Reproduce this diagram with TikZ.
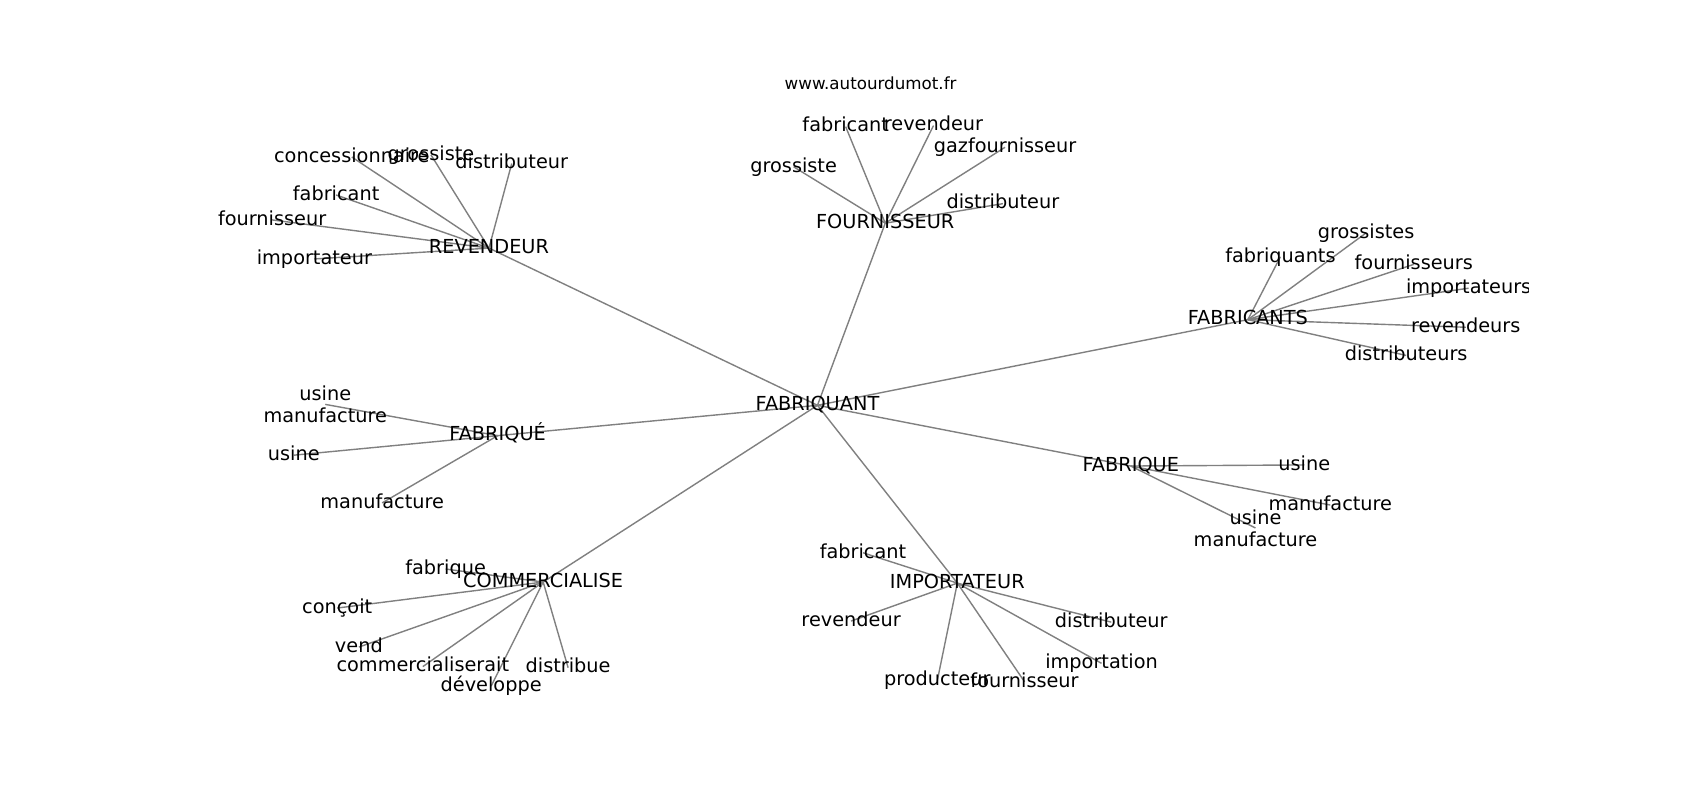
\documentclass[tikz,border=0pt]{standalone}
\usepackage{fontspec}
\setmainfont{DejaVu Sans}
\usetikzlibrary{backgrounds}
\tikzset{
  lbl/.style={inner sep=0pt, anchor=center, yshift=-1pt, font=\fontsize{9.65pt}{11.1pt}\selectfont, text height=0.76em, text depth=0.236em},
  lbl2/.style={inner sep=0pt, anchor=center, yshift=0pt, align=center, font=\fontsize{9.65pt}{11.1pt}\selectfont},
  ttl/.style={inner sep=0pt, anchor=center, yshift=-1pt, font=\fontsize{8.35pt}{10pt}\selectfont, text height=0.76em, text depth=0.236em},
  edge/.style={draw=black!50, line width=0.7pt}
}
\begin{document}
\begin{tikzpicture}[x={(0.5421pt,0)}, y={(0,-0.5421pt)}]
\useasboundingbox (0,0) rectangle (1568,738);
% title
\node[ttl] (title) at (803,76) {www.autourdumot.fr};
% hub
\node[lbl] (hub) at (754,372) {FABRIQUANT};
% FOURNISSEUR
\node[lbl] (fou) at (816.5,204) {FOURNISSEUR};
\node[lbl] (fou1) at (780,115) {fabricant};
\node[lbl] (fou2) at (861,114) {revendeur};
\node[lbl] (fou3) at (927,134) {gazfournisseur};
\node[lbl] (fou4) at (732,152) {grossiste};
\node[lbl] (fou5) at (925,186) {distributeur};
% REVENDEUR
\node[lbl] (rev) at (451,227) {REVENDEUR};
\node[lbl] (rev1) at (324.5,143) {concessionnaire};
\node[lbl] (rev2) at (397.5,141) {grossiste};
\node[lbl] (rev3) at (472,149) {distributeur};
\node[lbl] (rev4) at (310,178) {fabricant};
\node[lbl] (rev5) at (251,201) {fournisseur};
\node[lbl] (rev6) at (290,237) {importateur};
% FABRICANTS
\node[lbl] (fcs) at (1151,293) {FABRICANTS};
\node[lbl] (fcs1) at (1260,213) {grossistes};
\node[lbl] (fcs2) at (1181,235) {fabriquants};
\node[lbl] (fcs3) at (1304,242) {fournisseurs};
\begin{scope}
\clip (0,0) rectangle (1409.5,738);
\node[lbl] (fcs4) at (1354.6,264) {importateurs};
\end{scope}
\node[lbl] (fcs5) at (1352,300) {revendeurs};
\node[lbl] (fcs6) at (1297,326) {distributeurs};
% FABRIQUÉ
\node[lbl] (fbe) at (459,400) {FABRIQUÉ};
\node[lbl2] (fbe1) at (300,373) {usine\\manufacture};
\node[lbl] (fbe2) at (271,418) {usine};
\node[lbl] (fbe3) at (352.5,462) {manufacture};
% FABRIQUE
\node[lbl] (fbq) at (1043,428) {FABRIQUE};
\node[lbl] (fbq1) at (1203,427) {usine};
\node[lbl] (fbq2) at (1227,464) {manufacture};
\node[lbl2] (fbq3) at (1158,487) {usine\\manufacture};
% COMMERCIALISE
\node[lbl] (com) at (501,535) {COMMERCIALISE};
\node[lbl] (com1) at (411,523) {fabrique};
\node[lbl] (com2) at (311,559) {conçoit};
\node[lbl] (com3) at (331,595) {vend};
\node[lbl] (com4) at (390,613) {commercialiserait};
\node[lbl] (com5) at (453,631) {développe};
\node[lbl] (com6) at (524,614) {distribue};
% IMPORTATEUR
\node[lbl] (imp) at (883,536) {IMPORTATEUR};
\node[lbl] (imp1) at (796,508) {fabricant};
\node[lbl] (imp2) at (785,571) {revendeur};
\node[lbl] (imp3) at (1025,572) {distributeur};
\node[lbl] (imp4) at (1016,610) {importation};
\node[lbl] (imp5) at (864.5,626) {producteur};
\node[lbl] (imp6) at (945,627) {fournisseur};
% edges
\begin{scope}[on background layer]
\fill[white] (0,0) rectangle (1568,738);
\foreach \h in {fou,rev,fcs,fbe,fbq,com,imp}
  \draw[edge] (hub.center) -- (\h.center);
\foreach \c in {fou1,fou2,fou3,fou4,fou5}
  \draw[edge] (fou.center) -- (\c.center);
\foreach \c in {rev1,rev2,rev3,rev4,rev5,rev6}
  \draw[edge] (rev.center) -- (\c.center);
\foreach \c in {fcs1,fcs2,fcs3,fcs4,fcs5,fcs6}
  \draw[edge] (fcs.center) -- (\c.center);
\foreach \c in {fbe1,fbe2,fbe3}
  \draw[edge] (fbe.center) -- (\c.center);
\foreach \c in {fbq1,fbq2,fbq3}
  \draw[edge] (fbq.center) -- (\c.center);
\foreach \c in {com1,com2,com3,com4,com5,com6}
  \draw[edge] (com.center) -- (\c.center);
\foreach \c in {imp1,imp2,imp3,imp4,imp5,imp6}
  \draw[edge] (imp.center) -- (\c.center);
\end{scope}
\end{tikzpicture}
\end{document}
